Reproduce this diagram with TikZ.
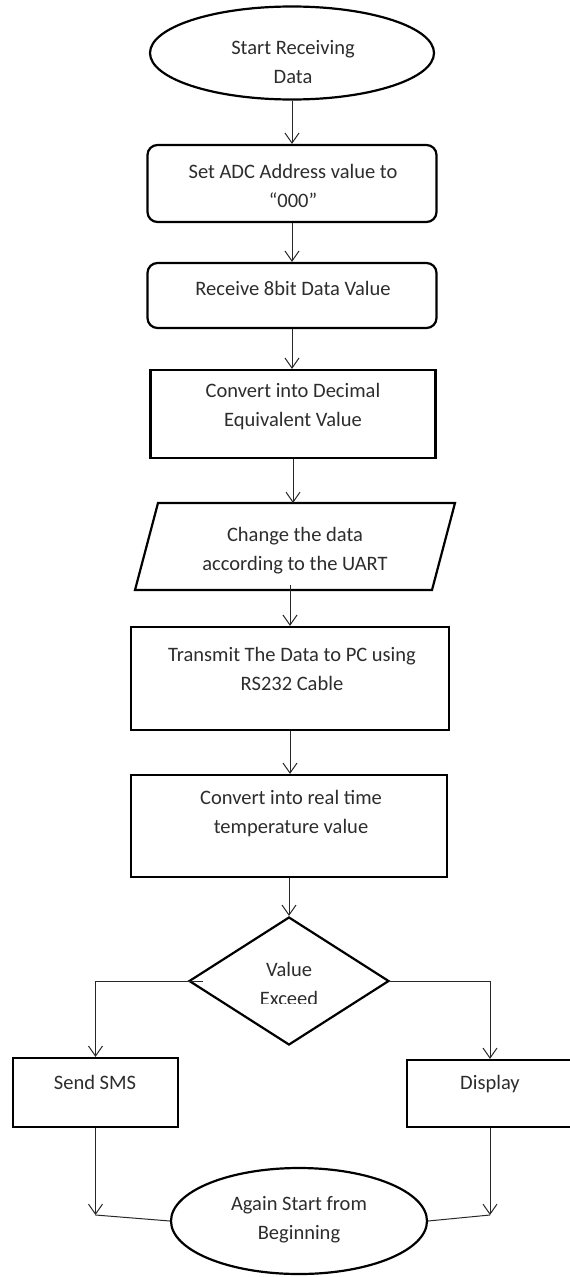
\documentclass[tikz,border=0pt]{standalone}
\usepackage{fontspec}
\setmainfont{Carlito}
\usetikzlibrary{shapes.geometric,arrows.meta}
\definecolor{txtc}{RGB}{45,45,45}
\definecolor{linec}{RGB}{40,40,40}
\begin{document}
\begin{tikzpicture}[x=1pt,y=-1pt,
  shp/.style={draw=black,line width=2.2pt,inner sep=0pt},
  tx/.style={font=\fontsize{20.5}{29}\selectfont,text=txtc,align=center,inner sep=0pt},
  arr/.style={draw=linec,line width=1pt,-{Straight Barb[length=10pt,width=14pt]}},
  ln/.style={draw=linec,line width=1pt}]
\useasboundingbox (0,0) rectangle (570,1277);
\clip (0,0) rectangle (570,1277);
\fill[white] (0,0) rectangle (570,1277);

% start
\node[shp,ellipse,minimum width=284,minimum height=93] (start) at (292,53) {};
\node[tx] (startT) at (293,62) {Start Receiving\\Data};

% box 1
\node[shp,rectangle,rounded corners=10,minimum width=289,minimum height=77] (b1) at (292,183.5) {};
\node[tx] (b1T) at (293,186) {Set ADC Address value to\\“000”};

% box 2
\node[shp,rectangle,rounded corners=10,minimum width=289,minimum height=65] (b2) at (292,295.5) {};
\node[tx] (b2T) at (293,288) {Receive 8bit Data Value};

% box 3
\node[shp,rectangle,minimum width=285,minimum height=88] (b3) at (293,414) {};
\node[tx] (b3T) at (293,407) {Convert into Decimal\\Equivalent Value};

% parallelogram
\draw[shp] (158,503) -- (455,503) -- (432,590) -- (135,590) -- cycle;
\coordinate (parTop) at (293,503);
\coordinate (parIn) at (290,585);
\node[tx] (parT) at (295,551) {Change the data\\according to the UART};

% box 4
\node[shp,rectangle,minimum width=318,minimum height=103] (b4) at (290,678.5) {};
\node[tx] (b4T) at (292,669) {Transmit The Data to PC using\\RS232 Cable};

% box 5
\node[shp,rectangle,minimum width=316,minimum height=102] (b5) at (289,826) {};
\node[tx] (b5T) at (291,814) {Convert into real time\\temperature value};

% decision
\node[shp,diamond,minimum width=200,minimum height=128] (dec) at (289,981) {};
\begin{scope}
  \clip (180,900) rectangle (400,1003);
  \node[tx] (decT) at (289,984) {Value\\Exceed};
\end{scope}

% side boxes
\node[shp,rectangle,minimum width=165,minimum height=69] (sms) at (95.5,1092.5) {};
\node[tx] (smsT) at (95,1082) {Send SMS};
\node[shp,rectangle,minimum width=166,minimum height=67] (disp) at (490,1093.5) {};
\node[tx] (dispT) at (490,1084) {Display};

% end
\node[shp,ellipse,minimum width=256,minimum height=106] (end) at (299,1221) {};
\node[tx] (endT) at (299,1220) {Again Start from\\Beginning};

% connectors
\draw[arr] (start.south) -- (start.south |- b1.north);
\draw[arr] (b1.south) -- (b1.south |- b2.north);
\draw[arr] (b2.south) -- (b2.south |- b3.north);
\draw[arr] (b3.south) -- (b3.south |- parTop);
\draw[arr] (parIn) -- (parIn |- b4.north);
\draw[arr] (b4.south) -- (b4.south |- b5.north);
\draw[arr] (b5.south) -- (b5.south |- dec.north);
\draw[arr] ([xshift=15]dec.west) -| (sms.north);
\draw[arr] (dec.east) -| (disp.north);
\coordinate (lowY) at (0,1215);
\draw[arr] (sms.south) -- (sms.south |- lowY);
\draw[ln] (sms.south |- lowY) -- (end.west);
\draw[arr] (disp.south) -- (disp.south |- lowY);
\draw[ln] (disp.south |- lowY) -- (end.east);
\end{tikzpicture}
\end{document}
